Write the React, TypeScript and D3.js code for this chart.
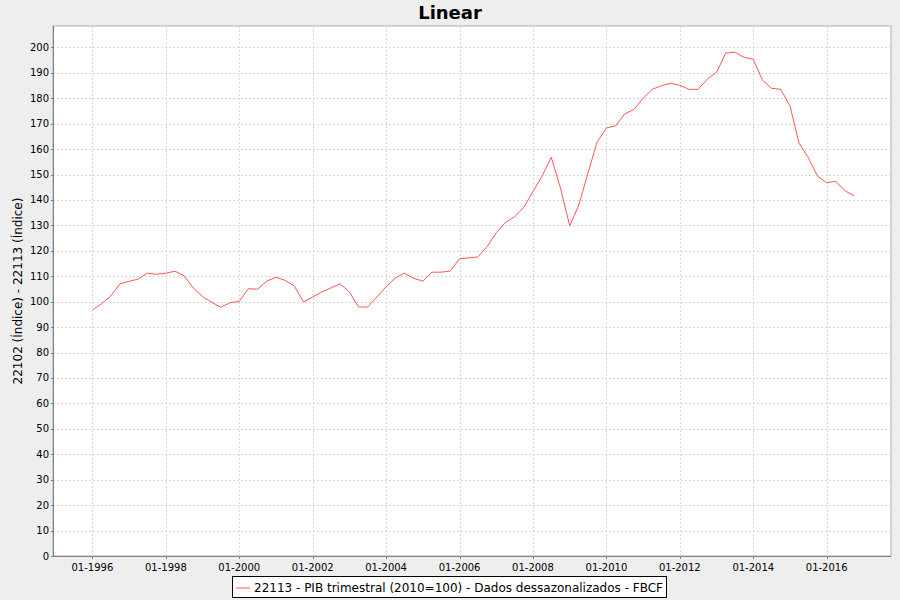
import React from "react";
import * as d3 from "d3";

const startYear = 1996;
const values: number[] = [
  96.7, 99.2, 102.2, 107.0,
  108.0, 108.9, 111.2, 110.8,
  111.2, 112.0, 110.2, 105.3,
  102.0, 99.8, 97.8, 99.6,
  100.1, 105.1, 104.9, 108.1,
  109.6, 108.4, 106.2, 99.9,
  101.8, 103.8, 105.4, 107.0,
  103.8, 97.9, 97.9, 101.8,
  105.9, 109.3, 111.2, 109.2,
  108.1, 111.6, 111.6, 112.1,
  116.9, 117.2, 117.6, 121.6,
  127.1, 131.1, 133.4, 137.0,
  143.3, 149.4, 156.8, 144.6,
  129.8, 138.0, 150.5, 162.9,
  168.3, 169.1, 173.8, 175.6,
  180.0, 183.5, 184.9, 185.9,
  185.1, 183.5, 183.5, 187.5,
  190.2, 197.7, 198.1, 196.1,
  195.3, 187.2, 183.9, 183.5,
  177.0, 162.3, 156.8, 149.4,
  146.8, 147.3, 143.6, 141.6,
];
const yTicks: number[] = d3.range(0, 201, 10);
const xTickYears: number[] = [1996, 1998, 2000, 2002, 2004, 2006, 2008, 2010, 2012, 2014, 2016];
const title = "Linear";
const yLabel = "22102 (Índice) - 22113 (Índice)";
const legendLabel = "22113 - PIB trimestral (2010=100) - Dados dessazonalizados - FBCF";

const W = 900, H = 600;
const left = 53, right = 891, top = 26, bottom = 556;
const font = "'DejaVu Sans', sans-serif";

export default function App() {
  const data = values.map((v, i) => ({
    date: new Date(startYear + Math.floor(i / 4), (i % 4) * 3, 1),
    v,
  }));
  const x = d3.scaleTime()
    .domain([new Date(1994, 11, 5), new Date(2017, 9, 2)])
    .range([left, right]);
  const y = d3.scaleLinear().domain([0, 208.4]).range([bottom, top]);
  const line = d3.line<{ date: Date; v: number }>()
    .x((d) => x(d.date))
    .y((d) => y(d.v));
  const fmt = d3.timeFormat("%m-%Y");
  const xTicks = xTickYears.map((yr) => new Date(yr, 0, 1));

  return (
    <svg width={W} height={H} style={{ position: "absolute", left: 0, top: 0 }}
      fontFamily={font}>
      <rect x={0} y={0} width={W} height={H} fill="#EEEEEE" />
      <text x={W / 2} y={19} textAnchor="middle" fontSize={18} fontWeight="bold" fill="#000">{title}</text>
      <rect x={left} y={top} width={right - left} height={bottom - top} fill="#FFFFFF" stroke="#B0B0B0" strokeWidth={1} />
      {yTicks.map((t) => (
        <line key={"gy" + t} x1={left} x2={right} y1={Math.round(y(t)) + 0.5} y2={Math.round(y(t)) + 0.5}
          stroke="#D8D8D8" strokeDasharray="2,2" strokeWidth={1} />
      ))}
      {xTicks.map((t, i) => (
        <line key={"gx" + i} y1={top} y2={bottom} x1={Math.round(x(t)) + 0.5} x2={Math.round(x(t)) + 0.5}
          stroke="#D8D8D8" strokeDasharray="2,2" strokeWidth={1} />
      ))}
      <path d={line(data) || ""} fill="none" stroke="#FF5555" strokeWidth={1} />
      <line x1={left + 0.5} x2={left + 0.5} y1={top} y2={bottom} stroke="#808080" />
      <line x1={left} x2={right} y1={bottom + 0.5} y2={bottom + 0.5} stroke="#808080" />
      {yTicks.map((t) => (
        <g key={"ty" + t}>
          <line x1={left - 2} x2={left} y1={Math.round(y(t)) + 0.5} y2={Math.round(y(t)) + 0.5} stroke="#808080" />
          <text x={left - 4} y={y(t) + 3.5} textAnchor="end" fontSize={10} fill="#000">{t}</text>
        </g>
      ))}
      {xTicks.map((t, i) => (
        <g key={"tx" + i}>
          <line y1={bottom} y2={bottom + 3} x1={Math.round(x(t)) + 0.5} x2={Math.round(x(t)) + 0.5} stroke="#808080" />
          <text x={x(t)} y={bottom + 15} textAnchor="middle" fontSize={10} fill="#000">{fmt(t)}</text>
        </g>
      ))}
      <text transform={`translate(22,${(top + bottom) / 2}) rotate(-90)`} textAnchor="middle" fontSize={12} fill="#000">{yLabel}</text>
      <rect x={232.5} y={576.5} width={434} height={21} fill="#FFFFFF" stroke="#000" strokeWidth={1} />
      <line x1={236} x2={250} y1={588} y2={588} stroke="#FF5555" strokeWidth={1} />
      <text x={254} y={592} fontSize={12} fill="#000">{legendLabel}</text>
    </svg>
  );
}
